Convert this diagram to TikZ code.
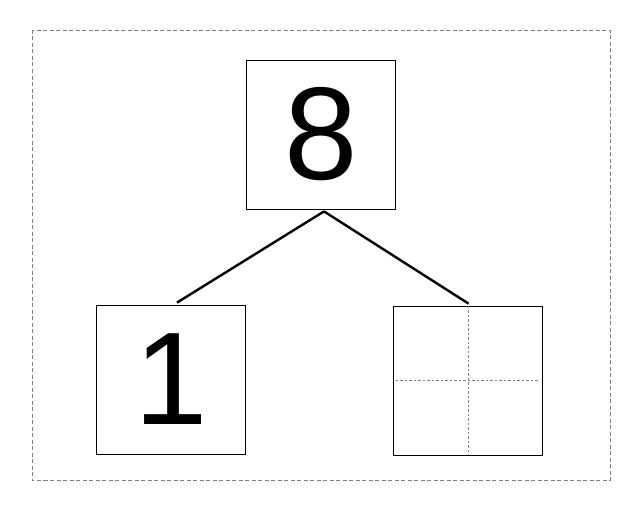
\documentclass[tikz,border=0pt]{standalone}
\usepackage{fontspec}
\setmainfont{Liberation Sans}
\usetikzlibrary{positioning}

\begin{document}
\begin{tikzpicture}[
  x=1pt, y=-1pt,
  digitbox/.style={
    draw=black,
    line width=0.8pt,
    minimum width=149pt,
    minimum height=149pt,
    inner sep=0pt,
    font=\fontsize{132}{132}\selectfont,
  },
  branch/.style={
    draw=black,
    line width=2.4pt,
  },
  guide/.style={
    draw=gray,
    line width=0.7pt,
    dash pattern=on 2.5pt off 2pt,
  }
]
  \useasboundingbox (0,0) rectangle (642,511);

  % outer frame
  \draw[gray, line width=0.8pt, dash pattern=on 4pt off 2.5pt] (32,30) rectangle (610,480);

  % whole (top)
  \node[digitbox] (whole) at (321,134.5) {8};

  % parts (bottom)
  \node[digitbox] (part-l) at (171,379.5) {1};
  \node[digitbox] (part-r) at (467.5,380.5) {};

  % guides in the empty part
  \draw[guide] ([xshift=1pt]part-r.north) -- ([xshift=1pt]part-r.south);
  \draw[guide] ([xshift=3pt]part-r.west) -- ([xshift=-3pt]part-r.east);

  % branches
  \coordinate (fork) at ([xshift=3pt, yshift=-2pt]whole.south);
  \draw[branch] (fork) -- ([xshift=6pt, yshift=2pt]part-l.north);
  \draw[branch] (fork) -- ([xshift=1pt, yshift=2pt]part-r.north);

\end{tikzpicture}
\end{document}
